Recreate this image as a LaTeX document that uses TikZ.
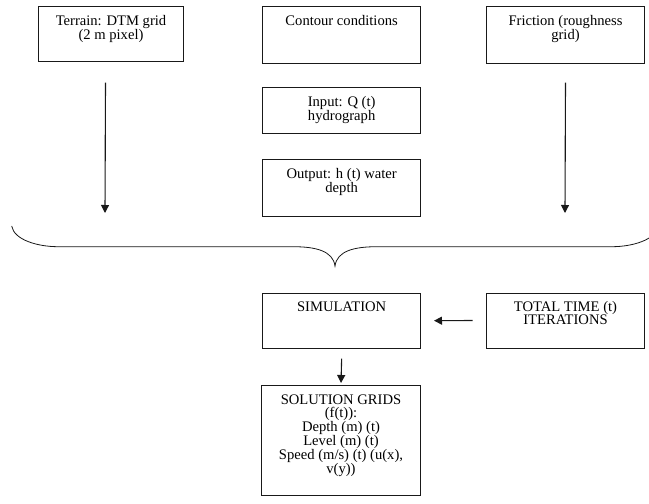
\documentclass[tikz,border=0pt]{standalone}
\usepackage{fontspec}
\setmainfont{Liberation Serif}
\usetikzlibrary{arrows.meta}

\newcommand{\boxfont}{\fontsize{14.6pt}{13pt}\selectfont\lineskiplimit=-20pt\lineskip=0pt}
% text set at the top of a box of given width and height
\newcommand{\boxtext}[3]{\parbox[t][#2][t]{#1}{\centering\rule{0pt}{18.5pt}#3}}

\tikzset{
  flowbox/.style={draw=black!90, line width=1pt, inner sep=0pt, anchor=north west, font=\boxfont},
  flowarrow/.style={draw=black!90, line width=1.1pt, -{Triangle[length=8pt,width=8pt]}}
}

\begin{document}
\begin{tikzpicture}[x=1pt,y=-1pt]
  \useasboundingbox (0,0) rectangle (649,504);
  \clip (0,0) rectangle (649,504);

  % Model inputs
  \node[flowbox] (terrain) at (37.7,6) {\boxtext{145.6pt}{55pt}{Terrain: DTM grid\\(2 m pixel)}};
  \node[flowbox] (contour) at (262.3,6) {\boxtext{157.7pt}{57pt}{Contour conditions}};
  \node[flowbox] (friction) at (485.7,6) {\boxtext{158.6pt}{57pt}{Friction (roughness\\grid)}};
  \node[flowbox] (input) at (262.3,87.3) {\boxtext{157.7pt}{45.4pt}{Input: Q (t)\\hydrograph}};
  \node[flowbox] (output) at (262.3,159.3) {\boxtext{157.7pt}{56.4pt}{Output: h (t) water\\depth}};

  % Arrows down to the brace
  \coordinate (terrainEnd) at (105,213);
  \coordinate (frictionEnd) at (565,213);
  \draw[flowarrow] ([xshift=-5.5pt,yshift=-20.7pt]terrain.south) -- (terrainEnd);
  \draw[flowarrow] ([yshift=-18.7pt]friction.south) -- (frictionEnd);

  % Brace
  \draw[black!90, line width=0.8pt] (11.7,226) .. controls (14,240) and (38,246.7) .. (58,246.7)
    -- (293,246.7) .. controls (316,246.7) and (333,251) .. (335,266)
    .. controls (337,251) and (354,246.7) .. (377,246.7)
    -- (612,246.7) .. controls (632,246.7) and (656,240) .. (658.3,226);

  % Simulation
  \node[flowbox] (sim) at (262.3,292.7) {\boxtext{157.7pt}{55pt}{SIMULATION}};
  \node[flowbox] (total) at (485.7,292.5) {\boxtext{158.6pt}{55pt}{TOTAL TIME (t)\\ITERATIONS}};
  \node[flowbox] (solution) at (261,385) {\boxtext{159pt}{110pt}{SOLUTION GRIDS\\(f(t)):\\Depth (m) (t)\\Level (m) (t)\\Speed (m/s) (t) (u(x),\\v(y))}};

  \draw[flowarrow] ([xshift=-13pt]total.west) -- ([xshift=13pt]sim.east);
  \draw[flowarrow] ([yshift=-10pt]sim.south) -- ([yshift=2pt]solution.north);
\end{tikzpicture}
\end{document}
